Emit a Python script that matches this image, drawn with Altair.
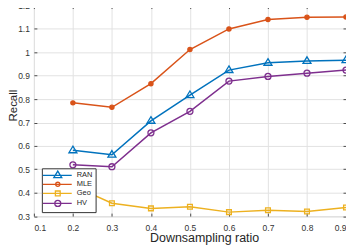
import altair as alt
import pandas as pd

# ---- data ----
ratios = [0.2, 0.3, 0.4, 0.5, 0.6, 0.7, 0.8, 0.9]
series_names = ["RAN", "MLE", "Geo", "HV"]
ran = [0.581, 0.562, 0.707, 0.817, 0.924, 0.955, 0.963, 0.966]
mle = [0.784, 0.765, 0.866, 1.012, 1.100, 1.140, 1.150, 1.151]
geo = [0.430, 0.355, 0.333, 0.340, 0.317, 0.325, 0.320, 0.337]
hv = [0.519, 0.511, 0.656, 0.748, 0.877, 0.897, 0.911, 0.924]
x_ticks = [0.1, 0.2, 0.3, 0.4, 0.5, 0.6, 0.7, 0.8, 0.9]
y_ticks = [0.3, 0.4, 0.5, 0.6, 0.7, 0.8, 0.9, 1.0, 1.1, 1.2]

colors = ["#0072BD", "#D95319", "#EDB120", "#7E2F8E"]
fills = ["transparent", "#D95319", "transparent", "transparent"]

# marker shapes (custom SVG paths) for plotted points
vis_shapes = [
    "M0,-2.1L2,1.2L-2,1.2Z",
    "M-1.05,0A1.05,1.05 0 1,0 1.05,0A1.05,1.05 0 1,0 -1.05,0Z",
    "M-1.2,-1.2H1.2V1.2H-1.2Z",
    "M-1.5,0A1.5,1.5 0 1,0 1.5,0A1.5,1.5 0 1,0 -1.5,0Z",
]
# legend symbols: a line segment with the marker in its middle
leg_line = "M-5,0H4.67"
leg_shapes = [
    leg_line + "M0,-1.4L1.33,0.8L-1.33,0.8Z",
    leg_line + "M-0.7,0A0.7,0.7 0 1,0 0.7,0A0.7,0.7 0 1,0 -0.7,0Z",
    leg_line + "M-0.8,-0.8H0.8V0.8H-0.8Z",
    leg_line + "M-1,0A1,1 0 1,0 1,0A1,1 0 1,0 -1,0Z",
]

rows = []
for name, vals in zip(series_names, [ran, mle, geo, hv]):
    for r, v in zip(ratios, vals):
        rows.append({"ratio": r, "recall": v, "series": name})
df = pd.DataFrame(rows)

FONT = "Liberation Sans"
TXT = "#262626"
xs = alt.Scale(domain=[0.1, 0.9], nice=False, zero=False)
ys = alt.Scale(domain=[0.3, 1.2], nice=False, zero=False)
cs = alt.Scale(domain=series_names, range=colors)


def tick_axis(orient, vals):
    return alt.Axis(orient=orient, offset=-3, values=vals, ticks=True, tickSize=3,
                    tickColor=TXT, tickWidth=0.8, labels=False, domain=False,
                    grid=False, title=None)


lines = alt.Chart(df).mark_line(strokeWidth=1.5).encode(
    x=alt.X("ratio:Q", scale=xs, axis=alt.Axis(
        orient="bottom", values=x_ticks, format=".1f", grid=True, gridColor="#e2e2e2",
        ticks=False, tickSize=0, domain=False, labelPadding=7.5, labelFontSize=8.5,
        labelFont=FONT, labelColor="#333333", title="Downsampling ratio",
        titleFont=FONT, titleFontSize=12.5, titleFontWeight="normal", titleColor=TXT,
        titleX=171, titleY=22, titleBaseline="middle")),
    y=alt.Y("recall:Q", scale=ys, axis=alt.Axis(
        orient="left", values=y_ticks, format="~g", grid=True, gridColor="#e2e2e2",
        ticks=False, tickSize=0, domain=False, labelPadding=4.5, labelFontSize=8.5,
        labelFont=FONT, labelColor="#333333", title="Recall",
        titleFont=FONT, titleFontSize=11.5, titleFontWeight="normal", titleColor=TXT,
        titleX=-20.5, titleY=100, titleBaseline="middle")),
    color=alt.Color("series:N", scale=cs, legend=None),
)

points = alt.Chart(df).mark_point(filled=False, size=16, strokeWidth=1.3, opacity=1).encode(
    x=alt.X("ratio:Q", scale=xs, axis=tick_axis("bottom", x_ticks)),
    y=alt.Y("recall:Q", scale=ys, axis=tick_axis("left", y_ticks)),
    color=alt.Color("series:N", scale=cs, legend=None),
    shape=alt.Shape("series:N", scale=alt.Scale(domain=series_names, range=vis_shapes), legend=None),
    fill=alt.Fill("series:N", scale=alt.Scale(domain=series_names, range=fills), legend=None),
)

leg_props = dict(orient="none", legendX=8, legendY=163.5, title=None, padding=3,
                 fillColor="white", strokeColor="#333333", symbolSize=36,
                 symbolStrokeWidth=1.3, symbolOffset=9, labelOffset=15,
                 labelFontSize=7.5, labelFont=FONT, labelColor=TXT, rowPadding=-0.9)

leg = alt.Chart(df).mark_point(filled=False, size=36, strokeWidth=1.3, opacity=0).encode(
    x=alt.X("ratio:Q", scale=xs, axis=tick_axis("top", x_ticks)),
    y=alt.Y("recall:Q", scale=ys, axis=tick_axis("right", y_ticks)),
    color=alt.Color("series:N", scale=cs, legend=alt.Legend(**leg_props)),
    shape=alt.Shape("series:N", scale=alt.Scale(domain=series_names, range=leg_shapes),
                    legend=alt.Legend(**leg_props)),
    fill=alt.Fill("series:N", scale=alt.Scale(domain=series_names, range=fills),
                  legend=alt.Legend(**leg_props)),
)

chart = alt.layer(lines, points, leg).resolve_scale(
    color="independent", shape="independent", fill="independent"
).resolve_axis(x="independent", y="independent").properties(
    width=313.5, height=211.5,
    autosize=alt.AutoSizeParams(type="none"),
    padding={"left": 26, "top": -3, "right": 0, "bottom": 28.5},
).configure_view(stroke=TXT, strokeWidth=0.8).configure(background="white")

chart.save("out.html", embed_options={"renderer": "svg", "actions": False})
